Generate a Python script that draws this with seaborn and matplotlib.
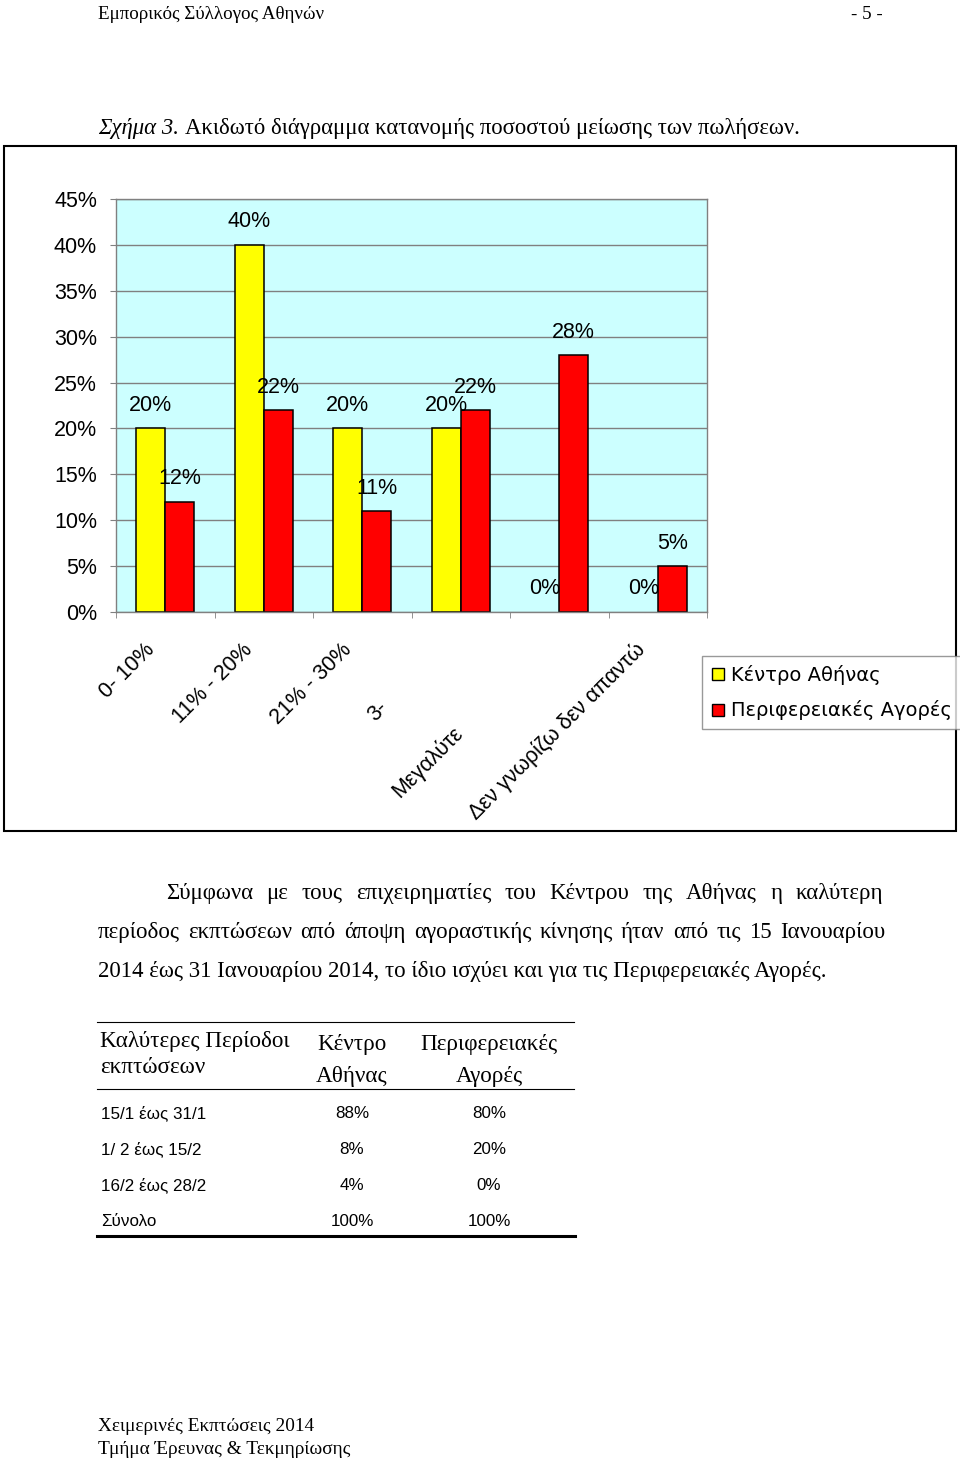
import numpy as np
import pandas as pd
import matplotlib
matplotlib.use("Agg")
import matplotlib.pyplot as plt
import seaborn as sns
from matplotlib.transforms import ScaledTranslation
from matplotlib.lines import Line2D
from matplotlib.patches import Rectangle

# ---------------- data ----------------
categories = ["0- 10%", "11% - 20%", "21% - 30%", "3-", "Μεγαλύτε", "Δεν γνωρίζω δεν απαντώ"]
series_names = ["Κέντρο Αθήνας", "Περιφερειακές Αγορές"]
kentro = [20, 40, 20, 20, 0, 0]
perif = [12, 22, 11, 22, 28, 5]
series_colors = ["#FFFF00", "#FF0000"]
y_ticks = [0, 5, 10, 15, 20, 25, 30, 35, 40, 45]
y_tick_labels = [f"{v}%" for v in y_ticks]

header_left = "Εμπορικός Σύλλογος Αθηνών"
header_right = "- 5 -"
caption_italic = "Σχήμα 3."
caption_rest = "Ακιδωτό διάγραμμα κατανομής ποσοστού μείωσης των πωλήσεων."
para_lines = [
    "Σύμφωνα με τους επιχειρηματίες του Κέντρου της Αθήνας η καλύτερη",
    "περίοδος εκπτώσεων από άποψη αγοραστικής κίνησης ήταν από τις 15 Ιανουαρίου",
    "2014 έως 31 Ιανουαρίου 2014, το ίδιο ισχύει και για τις Περιφερειακές Αγορές.",
]
table_col_headers = [["Καλύτερες Περίοδοι", "εκπτώσεων"], ["Κέντρο", "Αθήνας"], ["Περιφερειακές", "Αγορές"]]
periods = ["15/1 έως 31/1", "1/ 2 έως 15/2", "16/2 έως 28/2", "Σύνολο"]
kentro_share = ["88%", "8%", "4%", "100%"]
perif_share = ["80%", "20%", "0%", "100%"]
footer_lines = ["Χειμερινές Εκπτώσεις 2014", "Τμήμα Έρευνας & Τεκμηρίωσης"]

# ---------------- figure ----------------
W, H = 960, 1458
fig = plt.figure(figsize=(W / 100, H / 100), dpi=100)
fig.patch.set_facecolor("white")
renderer = fig.canvas.get_renderer()
SERIF = "Liberation Serif"
SANS = "Liberation Sans"


def fx(x):
    return x / W


def fy(y):
    return 1 - y / H


def width_px(s, size, **kw):
    t = fig.text(0, 0, s, fontsize=size, **kw)
    w = t.get_window_extent(renderer).width
    t.remove()
    return w


def fit(s, target, **kw):
    return 10 * target / width_px(s, 10, **kw)


# ---------------- chart ----------------
ax = fig.add_axes([fx(116), fy(612), (707 - 116) / W, (612 - 199) / H])
df = pd.DataFrame({
    "cat": categories * 2,
    "val": kentro + perif,
    "series": [series_names[0]] * len(categories) + [series_names[1]] * len(categories),
})
sns.barplot(data=df, x="cat", y="val", hue="series", order=categories,
            hue_order=series_names, palette=series_colors, saturation=1,
            edgecolor="black", linewidth=1.1, width=0.59, errorbar=None,
            legend=False, ax=ax)

FS = 15.5
for cont in ax.containers:
    for bar in cont:
        if bar.get_height() == 0:
            bar.set_linewidth(0)
    ax.bar_label(cont, labels=[f"{v:.0f}%" for v in cont.datavalues],
                 padding=9, fontsize=FS, fontfamily=SANS)

ax.set_facecolor("#CCFFFF")
ax.set_xlim(-0.5, len(categories) - 0.5)
ax.set_ylim(0, 45)
ax.set_yticks(y_ticks)
ax.set_yticklabels(y_tick_labels, fontsize=FS, fontfamily=SANS)
ax.yaxis.grid(True, color="#808080", lw=1)
ax.xaxis.grid(False)
ax.set_axisbelow(True)
ax.set_xlabel("")
ax.set_ylabel("")
for sp in ax.spines.values():
    sp.set_color("#808080")
    sp.set_linewidth(1)
ax.tick_params(axis="y", length=4.3, color="#808080", pad=9.4, direction="out")

ax.set_xticks(range(len(categories)))
ax.set_xticklabels(categories, rotation=45, ha="right", va="center",
                   rotation_mode="anchor", fontsize=FS, fontfamily=SANS)
ax.tick_params(axis="x", which="major", length=0, pad=25)
ax.set_xticks(np.arange(-0.5, len(categories), 1), minor=True)
ax.tick_params(axis="x", which="minor", length=4.3, color="#808080", direction="out")

offsets = {3: (-62, -58), 4: (-86, -83), 5: (-2, 0)}
for i, lab in enumerate(ax.get_xticklabels()):
    dx, dy = offsets.get(i, (0, 0))
    dx -= 14
    lab.set_transform(lab.get_transform() + ScaledTranslation(dx / 100, dy / 100, fig.dpi_scale_trans))

handles = [Line2D([], [], marker="s", ls="", markersize=9, markerfacecolor=c,
                  markeredgecolor="black", markeredgewidth=1) for c in series_colors]
leg = fig.legend(handles, series_names, loc="upper left",
                 bbox_to_anchor=(fx(702), fy(656)), frameon=True, fancybox=False,
                 edgecolor="#808080", borderaxespad=0,
                 prop={"family": "DejaVu Sans", "size": 14},
                 handlelength=0.7, handletextpad=0.35, labelspacing=0.8,
                 borderpad=0.45)
leg.get_frame().set_linewidth(1)

fig.add_artist(Rectangle((fx(4), fy(831)), (956 - 4) / W, (831 - 146) / H,
                         transform=fig.transFigure, fill=False, ec="black", lw=1.5))

# ---------------- page text ----------------
hs = fit(header_left, 227, family=SERIF)
fig.text(fx(98), fy(19), header_left, fontsize=hs, family=SERIF, va="baseline")
fig.text(fx(883), fy(19), header_right, fontsize=hs, family=SERIF, va="baseline", ha="right")

sp10 = width_px("x x", 10, family=SERIF) - width_px("xx", 10, family=SERIF)
tot10 = width_px(caption_italic, 10, family=SERIF, style="italic") + sp10 + width_px(caption_rest, 10, family=SERIF)
cs = 10 * 700 / tot10
wi = width_px(caption_italic, cs, family=SERIF, style="italic")
fig.text(fx(98), fy(134), caption_italic, fontsize=cs, family=SERIF, style="italic", va="baseline")
fig.text(fx(98 + wi + sp10 * cs / 10), fy(134), caption_rest, fontsize=cs, family=SERIF, va="baseline")

ps = fit(para_lines[2], 725, family=SERIF)


def justify(line, x0, x1, yb, size):
    words = line.split(" ")
    ws = [width_px(w, size, family=SERIF) for w in words]
    gap = (x1 - x0 - sum(ws)) / (len(words) - 1)
    x = x0
    for w, wd in zip(words, ws):
        fig.text(fx(x), fy(yb), w, fontsize=size, family=SERIF, va="baseline")
        x += wd + gap


justify(para_lines[0], 166, 883, 899, ps)
justify(para_lines[1], 98, 885, 938, ps)
fig.text(fx(98), fy(977), para_lines[2], fontsize=ps, family=SERIF, va="baseline")

# ---------------- table ----------------
ths = fit(table_col_headers[0][0], 189, family=SERIF)
fig.text(fx(100), fy(1047), table_col_headers[0][0], fontsize=ths, family=SERIF, va="baseline")
fig.text(fx(100), fy(1073), table_col_headers[0][1], fontsize=ths, family=SERIF, va="baseline")
col_x = [352, 489]
for cx, hdr in zip(col_x, table_col_headers[1:]):
    fig.text(fx(cx), fy(1050), hdr[0], fontsize=ths, family=SERIF, va="baseline", ha="center")
    fig.text(fx(cx), fy(1082), hdr[1], fontsize=ths, family=SERIF, va="baseline", ha="center")

tbs = fit(periods[0], 104, family=SANS)
row_y = [1118, 1154, 1190, 1226]
for yb, p, k, r in zip(row_y, periods, kentro_share, perif_share):
    fig.text(fx(101), fy(yb), p, fontsize=tbs, family=SANS, va="baseline")
    fig.text(fx(col_x[0]), fy(yb), k, fontsize=tbs, family=SANS, va="baseline", ha="center")
    fig.text(fx(col_x[1]), fy(yb), r, fontsize=tbs, family=SANS, va="baseline", ha="center")

fig.add_artist(Line2D([fx(97), fx(574)], [fy(1022), fy(1022)], transform=fig.transFigure, color="black", lw=0.8))
fig.add_artist(Line2D([fx(97), fx(574)], [fy(1089), fy(1089)], transform=fig.transFigure, color="black", lw=0.8))
fig.add_artist(Line2D([fx(97), fx(575)], [fy(1236), fy(1236)], transform=fig.transFigure, color="black", lw=2.2))

# ---------------- footer ----------------
fs_ = fit(footer_lines[1], 251, family=SERIF)
fig.text(fx(98), fy(1431), footer_lines[0], fontsize=fs_, family=SERIF, va="baseline")
fig.text(fx(98), fy(1454), footer_lines[1], fontsize=fs_, family=SERIF, va="baseline")

fig.savefig("out.png", dpi=100, facecolor="white")
